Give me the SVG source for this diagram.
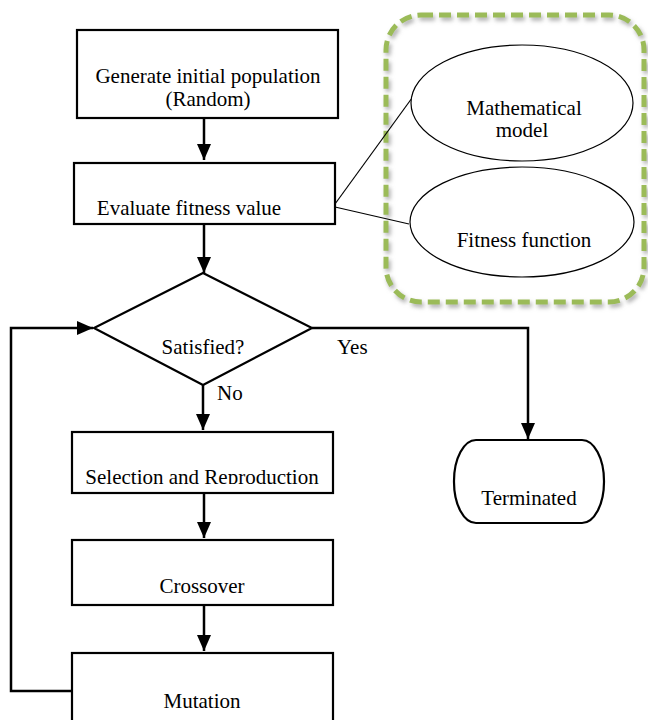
<svg xmlns="http://www.w3.org/2000/svg" width="648" height="720" viewBox="0 0 648 720">
<style>
  .box { fill: #fff; stroke: #000; stroke-width: 2.2; }
  .ell { fill: #fff; stroke: #000; stroke-width: 1.2; }
  .t { font-family: "Liberation Serif", "Times New Roman", serif; font-size: 21px; fill: #000; text-anchor: middle; }
  .tl { font-family: "Liberation Serif", "Times New Roman", serif; font-size: 21px; fill: #000; }
  .conn { fill: none; stroke: #000; stroke-width: 2.5; }
  .thin { fill: none; stroke: #000; stroke-width: 1.2; }
</style>
<defs>
  <marker id="arr" viewBox="0 0 16 14" refX="16" refY="7" markerWidth="16" markerHeight="14" markerUnits="userSpaceOnUse" orient="auto">
    <path d="M0,0 L16,7 L0,14 z" fill="#000"/>
  </marker>
  <filter id="sh" x="-10%" y="-10%" width="120%" height="120%">
    <feDropShadow dx="2" dy="3" stdDeviation="2" flood-color="#888" flood-opacity="0.7"/>
  </filter>
  <clipPath id="selclip"><rect x="72" y="432" width="261" height="52"/></clipPath>
</defs>
<rect width="648" height="720" fill="#fff"/>

<g id="group-box">
  <rect x="386" y="15" width="258" height="287" rx="35" ry="35" fill="none" stroke="#9BBB59" stroke-width="5" stroke-dasharray="12 6" filter="url(#sh)"/>
</g>

<g id="connectors">
  <path class="conn" d="M204,118 V160" marker-end="url(#arr)"/>
  <path class="conn" d="M204,224 V273" marker-end="url(#arr)"/>
  <path class="conn" d="M203,385 V430" marker-end="url(#arr)"/>
  <path class="conn" d="M204,493 V538" marker-end="url(#arr)"/>
  <path class="conn" d="M204,605 V651" marker-end="url(#arr)"/>
  <path class="conn" d="M72,691 H11 V328 H93" marker-end="url(#arr)"/>
  <path class="conn" d="M312,328 H528 V439" marker-end="url(#arr)"/>
  <path class="thin" d="M335,204 L412,98"/>
  <path class="thin" d="M335,207 L409,224"/>
  <text class="tl" x="337" y="354">Yes</text>
  <text class="tl" x="217" y="400">No</text>
</g>

<g id="generate">
  <rect class="box" x="77" y="30" width="261" height="88"/>
  <text class="t" x="208" y="83">Generate initial population</text>
  <text class="t" x="208" y="106">(Random)</text>
</g>

<g id="evaluate">
  <rect class="box" x="74" y="163" width="261" height="61"/>
  <text class="t" x="189" y="215">Evaluate fitness value</text>
</g>

<g id="satisfied">
  <polygon class="box" points="203,273 312,328 203,385 94,328"/>
  <text class="t" x="203" y="354">Satisfied?</text>
</g>

<g id="selection">
  <rect class="box" x="72" y="432" width="261" height="61"/>
  <text class="t" x="202" y="484" clip-path="url(#selclip)">Selection and Reproduction</text>
</g>

<g id="crossover">
  <rect class="box" x="72" y="540" width="261" height="65"/>
  <text class="t" x="202" y="593">Crossover</text>
</g>

<g id="mutation">
  <rect class="box" x="72" y="653" width="261" height="80"/>
  <text class="t" x="202" y="708">Mutation</text>
</g>

<g id="terminated">
  <rect class="box" x="454" y="440" width="150" height="83" rx="22" ry="41"/>
  <text class="t" x="529" y="505">Terminated</text>
</g>

<g id="math-model">
  <ellipse class="ell" cx="522" cy="103" rx="111" ry="58"/>
  <text class="t" x="524" y="115">Mathematical</text>
  <text class="t" x="522" y="137">model</text>
</g>

<g id="fitness-function">
  <ellipse class="ell" cx="522" cy="222" rx="112" ry="55"/>
  <text class="t" x="524" y="247">Fitness function</text>
</g>
</svg>
